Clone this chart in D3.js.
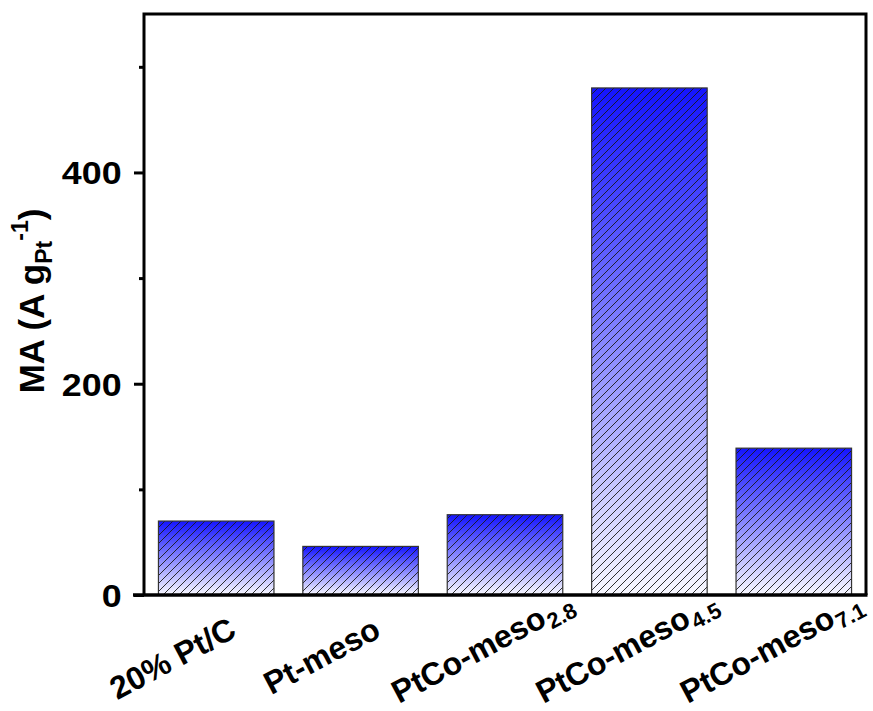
<!DOCTYPE html>
<html><head><meta charset="utf-8">
<script src="https://cdn.jsdelivr.net/npm/d3@7"></script>
<style>body{margin:0;background:#fff}svg{display:block}</style>
</head><body>
<script>
const categories = ["20% Pt/C","Pt-meso","PtCo-meso2.8","PtCo-meso4.5","PtCo-meso7.1"];
const labelMain = ["20% Pt/C","Pt-meso","PtCo-meso","PtCo-meso","PtCo-meso"];
const labelSub = ["","","2.8","4.5","7.1"];
const values = [70, 46, 76, 480, 139];
const majorTicks = [0, 200, 400];
const minorTicks = [100, 300, 500];

const W = 873, H = 711;
const m = {left:144, top:14, right:7, bottom:116};
const iw = W - m.left - m.right, ih = H - m.top - m.bottom;
const FONT = "'Liberation Sans',Arial,sans-serif";
const svg = d3.select("body").append("svg").attr("width",W).attr("height",H);
const defs = svg.append("defs");
const grad = defs.append("linearGradient").attr("id","bg").attr("x1",0).attr("y1",0).attr("x2",0).attr("y2",1);
grad.append("stop").attr("offset","0%").attr("stop-color","#1414ff");
grad.append("stop").attr("offset","100%").attr("stop-color","#f8f8ff");
const pat = defs.append("pattern").attr("id","hatch").attr("patternUnits","userSpaceOnUse").attr("width",8).attr("height",8);
pat.append("path").attr("d","M-2,2 L2,-2 M0,8 L8,0 M6,10 L10,6").attr("stroke","#1a1a1a").attr("stroke-width",0.9).attr("fill","none");

const g = svg.append("g").attr("transform",`translate(${m.left},${m.top})`);
const x = d3.scaleBand().domain(categories).range([0, iw]).paddingInner(0.2).paddingOuter(0.1);
const y = d3.scaleLinear().domain([0, 550]).range([ih, 0]);

const bars = g.selectAll(".bar").data(values).enter();
bars.append("rect").attr("x",(d,i)=>x(categories[i])).attr("y",d=>y(d))
  .attr("width",x.bandwidth()).attr("height",d=>ih-y(d)).attr("fill","url(#bg)");
bars.append("rect").attr("x",(d,i)=>x(categories[i])).attr("y",d=>y(d))
  .attr("width",x.bandwidth()).attr("height",d=>ih-y(d)).attr("fill","url(#hatch)")
  .attr("stroke","#333").attr("stroke-width",1.2);

// y axis
const ya = g.append("g").call(d3.axisLeft(y).tickValues(majorTicks).tickSize(10).tickFormat(d3.format("d")));
ya.select(".domain").remove();
ya.selectAll(".tick line").attr("stroke","#000").attr("stroke-width",3);
ya.selectAll(".tick text").attr("font-family",FONT).attr("font-weight","bold")
  .attr("font-size",32).attr("fill","#000").attr("x",-20).attr("dy","0.36em")
  .attr("transform","scale(1.12,1)");
const ym = g.append("g").call(d3.axisLeft(y).tickValues(minorTicks).tickSize(5).tickFormat(""));
ym.select(".domain").remove();
ym.selectAll(".tick line").attr("stroke","#000").attr("stroke-width",3);

// frame
g.append("path").attr("d",`M0,${ih} V0 H${iw} V${ih}`).attr("fill","none").attr("stroke","#000").attr("stroke-width",3);
g.append("line").attr("x1",-11).attr("x2",iw+1.5).attr("y1",ih).attr("y2",ih).attr("stroke","#000").attr("stroke-width",3.5);

// x labels
const xl = g.append("g");
categories.forEach((c,i)=>{
  const cx = x(c) + x.bandwidth()/2 + 22;
  const lg = xl.append("g").attr("transform",`translate(${cx},${ih+41}) rotate(-28)`);
  const off = labelSub[i] ? 24 : 0;
  lg.append("text").attr("x",off).attr("text-anchor","end").attr("font-family",FONT)
    .attr("font-weight","bold").attr("font-size",32).attr("fill","#000").text(labelMain[i]);
  if (labelSub[i]) lg.append("text").attr("x",off+1).attr("y",6).attr("font-family",FONT)
    .attr("font-weight","bold").attr("font-size",22).attr("fill","#000").text(labelSub[i]);
});

// y label
const yl = svg.append("text").attr("transform","translate(44,301) rotate(-90)").attr("text-anchor","middle")
  .attr("font-family",FONT).attr("font-weight","bold").attr("font-size",35).attr("fill","#000");
yl.append("tspan").text("MA (A g");
yl.append("tspan").attr("font-size",23).attr("dy",8).text("Pt");
yl.append("tspan").attr("font-size",23).attr("dy",-24).text("-1");
yl.append("tspan").attr("dy",16).text(")");
</script>
</body></html>
